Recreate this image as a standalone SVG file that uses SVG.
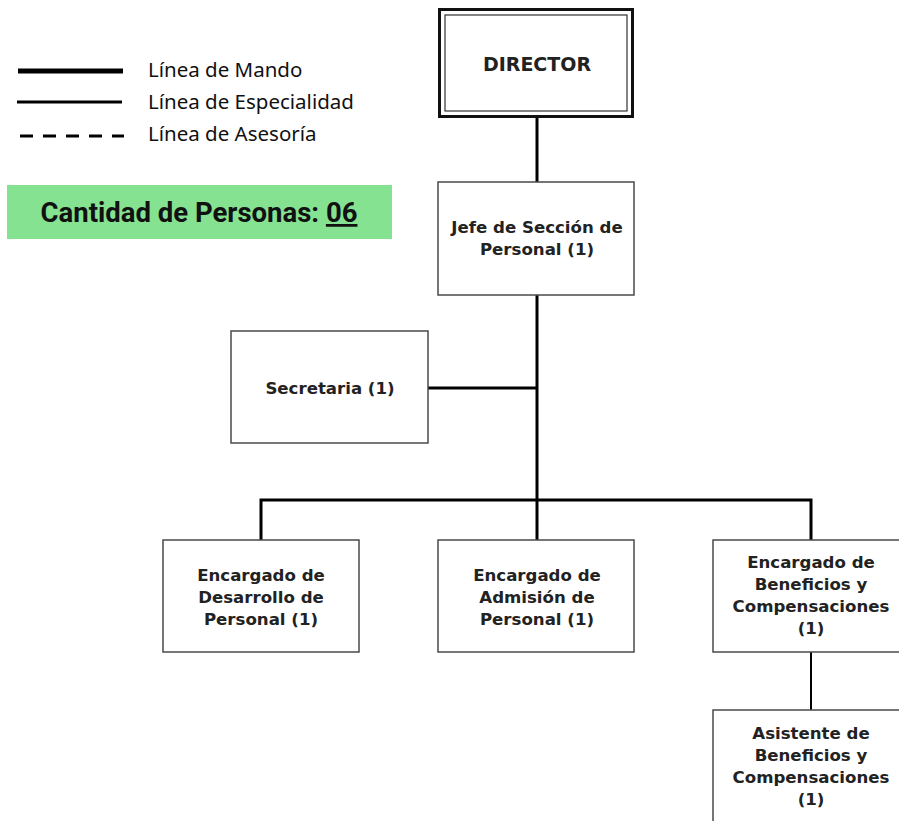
<svg xmlns="http://www.w3.org/2000/svg" width="899" height="821" viewBox="0 0 899 821">
<style>
.box{fill:#fff;stroke:#4a4a4a;stroke-width:1.5}
.t{font-family:"DejaVu Sans","Liberation Sans",sans-serif;font-weight:bold;font-size:16.6px;fill:#222;text-anchor:middle}
.lg{font-family:"Noto Sans","Liberation Sans",sans-serif;font-size:20.5px;fill:#111}
.c{stroke:#000;stroke-width:3;fill:none}
</style>
<rect width="899" height="821" fill="#fff"/>
<g id="legend">
<line x1="18" y1="71" x2="123" y2="71" stroke="#000" stroke-width="5"/>
<line x1="17" y1="102" x2="122" y2="102" stroke="#000" stroke-width="3"/>
<line x1="20" y1="136" x2="124" y2="136" stroke="#000" stroke-width="3" stroke-dasharray="13,10"/>
<text class="lg" x="148" y="77">Línea de Mando</text>
<text class="lg" x="148" y="109">Línea de Especialidad</text>
<text class="lg" x="148" y="141">Línea de Asesoría</text>
</g>
<g id="count">
<rect x="7" y="185" width="385" height="54" fill="#84e291"/>
<text x="199" y="222" font-family="Roboto,'Liberation Sans',sans-serif" font-weight="bold" font-size="27.5" fill="#111" text-anchor="middle">Cantidad de Personas: <tspan text-decoration="underline">06</tspan></text>
</g>
<g id="connectors">
<line class="c" x1="537" y1="118" x2="537" y2="182"/>
<line class="c" x1="537" y1="295" x2="537" y2="540"/>
<line class="c" x1="428" y1="388" x2="537" y2="388"/>
<polyline class="c" points="261,540 261,500 811,500 811,540"/>
<line x1="811" y1="652" x2="811" y2="710" stroke="#000" stroke-width="2"/>
</g>
<g id="director">
<rect x="439.5" y="9.5" width="193" height="107" fill="#fff" stroke="#111" stroke-width="3"/>
<rect x="445" y="15" width="182" height="96" fill="none" stroke="#333" stroke-width="1.2"/>
<text class="t" x="537" y="71" style="font-size:19px">DIRECTOR</text>
</g>
<g id="jefe">
<rect class="box" x="438" y="182" width="196" height="113"/>
<text class="t" x="537" y="233">Jefe de Sección de</text>
<text class="t" x="537" y="255">Personal (1)</text>
</g>
<g id="secretaria">
<rect class="box" x="231" y="331" width="197" height="112"/>
<text class="t" x="330" y="394">Secretaria (1)</text>
</g>
<g id="desarrollo">
<rect class="box" x="163" y="540" width="196" height="112"/>
<text class="t" x="261" y="581">Encargado de</text>
<text class="t" x="261" y="603">Desarrollo de</text>
<text class="t" x="261" y="625">Personal (1)</text>
</g>
<g id="admision">
<rect class="box" x="438" y="540" width="196" height="112"/>
<text class="t" x="537" y="581">Encargado de</text>
<text class="t" x="537" y="603">Admisión de</text>
<text class="t" x="537" y="625">Personal (1)</text>
</g>
<g id="beneficios">
<rect class="box" x="713" y="540" width="196" height="112"/>
<text class="t" x="811" y="568">Encargado de</text>
<text class="t" x="811" y="590">Beneficios y</text>
<text class="t" x="811" y="612">Compensaciones</text>
<text class="t" x="811" y="634">(1)</text>
</g>
<g id="asistente">
<rect class="box" x="713" y="710" width="196" height="130"/>
<text class="t" x="811" y="739">Asistente de</text>
<text class="t" x="811" y="761">Beneficios y</text>
<text class="t" x="811" y="783">Compensaciones</text>
<text class="t" x="811" y="805">(1)</text>
</g>
</svg>
